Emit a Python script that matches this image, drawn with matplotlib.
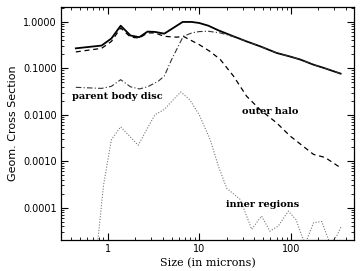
import numpy as np
import matplotlib
matplotlib.use("Agg")
import matplotlib.pyplot as plt
from matplotlib.ticker import FixedLocator, LogLocator, NullFormatter

# total
size_total = [0.45, 0.86, 1.1, 1.39, 1.78, 2.22, 2.73, 3.29, 4.16, 6.6, 8.3, 10, 12.6, 16.2,
              23.7, 33, 46, 70, 98, 127, 177, 237, 350]
cs_total = [0.27, 0.31, 0.44, 0.83, 0.51, 0.47, 0.62, 0.61, 0.56, 1.0, 1.0, 0.95, 0.83, 0.66,
            0.49, 0.38, 0.30, 0.215, 0.18, 0.155, 0.12, 0.10, 0.077]

# outer halo
size_halo = [0.45, 0.86, 1.1, 1.39, 1.78, 2.22, 2.73, 3.29, 4.16, 5.7, 6.7, 10, 13.2, 17,
             23.7, 33, 46, 70, 98, 177, 237, 350]
cs_halo = [0.226, 0.27, 0.38, 0.74, 0.47, 0.45, 0.58, 0.58, 0.49, 0.47, 0.49, 0.325, 0.23, 0.155,
           0.068, 0.025, 0.013, 0.0067, 0.0035, 0.0014, 0.0012, 0.00072]

# parent body disc
size_disc = [0.45, 0.86, 1.1, 1.39, 1.78, 2.22, 2.73, 3.58, 4.16, 5.0, 6.7, 8.3, 10, 12.6,
             17, 23.7, 33, 46, 70, 98, 127, 177, 237, 350]
cs_disc = [0.039, 0.037, 0.041, 0.057, 0.040, 0.036, 0.040, 0.053, 0.068, 0.155, 0.49, 0.58, 0.62, 0.63,
           0.58, 0.48, 0.38, 0.30, 0.215, 0.18, 0.155, 0.12, 0.10, 0.077]

# inner regions
size_inner = [0.78, 0.9, 1.1, 1.39, 2.16, 2.73, 3.29, 4.16, 5.2, 6.3, 7.9, 10, 13.2, 16.2,
              20, 28, 37.5, 48, 59, 73, 94, 114, 143, 177, 218, 270, 316, 357]
cs_inner = [1.8e-5, 0.00029, 0.0029, 0.0055, 0.0022, 0.0052, 0.010, 0.013, 0.021, 0.031, 0.021, 0.010,
            0.0029, 0.00078, 0.00026, 0.00015, 3.4e-5, 6.6e-5, 3.1e-5, 4e-5, 8.4e-5, 5.5e-5, 1.6e-5,
            4.7e-5, 5e-5, 1.6e-5, 2.4e-5, 4e-5]

ytick_vals = [1e-4, 1e-3, 1e-2, 1e-1, 1.0]
ytick_labels = ["0.0001", "0.0010", "0.0100", "0.1000", "1.0000"]
xtick_vals = [1, 10, 100]
xtick_labels = ["1", "10", "100"]

fig = plt.figure(figsize=(3.61, 2.71), dpi=100)
ax = fig.add_axes([61 / 361, 1 - 240 / 271, 293 / 361, 233 / 271])

ax.plot(size_total, cs_total, color="black", lw=1.3, ls="-")
ax.plot(size_halo, cs_halo, color="black", lw=0.9, ls=(0, (4, 3)))
ax.plot(size_disc, cs_disc, color="#333333", lw=0.8, ls=(0, (5, 2, 1, 2)))
ax.plot(size_inner, cs_inner, color="#777777", lw=0.8, ls=(0, (1, 1.5)))

ax.set_xscale("log")
ax.set_yscale("log")
ax.set_xlim(0.31, 490)
ax.set_ylim(2e-5, 2.1)

ax.yaxis.set_major_locator(FixedLocator(ytick_vals))
ax.set_yticklabels(ytick_labels)
ax.xaxis.set_major_locator(FixedLocator(xtick_vals))
ax.set_xticklabels(xtick_labels)
ax.xaxis.set_minor_locator(LogLocator(base=10, subs=np.arange(2, 10)))
ax.yaxis.set_minor_locator(LogLocator(base=10, subs=np.arange(2, 10)))
ax.xaxis.set_minor_formatter(NullFormatter())
ax.yaxis.set_minor_formatter(NullFormatter())

ax.tick_params(which="both", direction="in", top=True, right=True, labelsize=7, pad=3)
ax.tick_params(which="major", length=5, width=0.8)
ax.tick_params(which="minor", length=2.5, width=0.6)
for lbl in ax.get_xticklabels() + ax.get_yticklabels():
    lbl.set_fontfamily("DejaVu Sans")

for s in ax.spines.values():
    s.set_linewidth(0.9)

tfont = dict(family="DejaVu Serif", fontsize=7, fontweight="bold")
ax.text(0.41, 0.025, "parent body disc", va="center", ha="left", **tfont)
ax.text(29, 0.0115, "outer halo", va="center", ha="left", **tfont)
ax.text(19.5, 1.15e-4, "inner regions", va="center", ha="left", **tfont)

ax.set_xlabel("Size (in microns)", family="DejaVu Serif", fontsize=8, labelpad=3)
ax.set_ylabel("Geom. Cross Section", family="DejaVu Sans", fontsize=8, labelpad=4)

fig.savefig("out.png", dpi=100)
